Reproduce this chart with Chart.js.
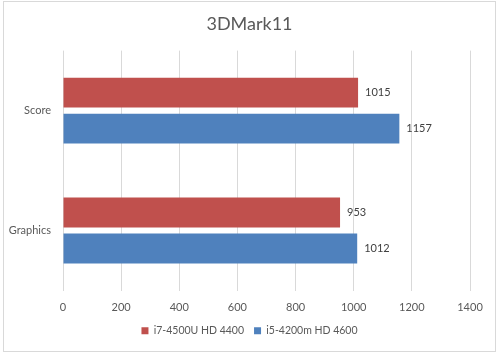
<!DOCTYPE html>
<html><head><meta charset="utf-8">
<script src="https://cdn.jsdelivr.net/npm/chart.js@4/dist/chart.umd.min.js"></script>
<style>html,body{margin:0;padding:0;background:#fff;}#wrap{width:499px;height:354px;position:relative;}</style>
</head><body><div id="wrap"><canvas id="c" width="499" height="354"></canvas></div>
<script>
const categories = ["Score", "Graphics"];
const seriesNames = ["i7-4500U HD 4400", "i5-4200m HD 4600"];
const i7Values = [1015, 953];
const i5Values = [1157, 1012];
const xTicks = [0, 200, 400, 600, 800, 1000, 1200, 1400];
const FONT = "Lato, 'Open Sans', sans-serif";

const frame = {
  id: 'frame',
  beforeDraw(chart) {
    const ctx = chart.ctx;
    ctx.save();
    ctx.fillStyle = '#fff';
    ctx.fillRect(0, 0, chart.width, chart.height);
    ctx.strokeStyle = '#d9d9d9';
    ctx.lineWidth = 1;
    ctx.strokeRect(3.5, 1.5, 492, 350);
    ctx.restore();
  }
};
const valueLabels = {
  id: 'valueLabels',
  afterDatasetsDraw(chart) {
    const ctx = chart.ctx;
    ctx.save();
    ctx.font = "11px " + FONT;
    ctx.fillStyle = '#404040';
    ctx.textBaseline = 'middle';
    ctx.textAlign = 'left';
    chart.data.datasets.forEach((ds, i) => {
      chart.getDatasetMeta(i).data.forEach((el, j) => {
        ctx.fillText(String(ds.data[j]), el.x + 7, el.y);
      });
    });
    ctx.restore();
  }
};

new Chart(document.getElementById('c'), {
  type: 'bar',
  data: {
    labels: categories,
    datasets: [
      { label: seriesNames[0], data: i7Values, backgroundColor: '#C0504D', categoryPercentage: 0.6, barPercentage: 0.83 },
      { label: seriesNames[1], data: i5Values, backgroundColor: '#4F81BD', categoryPercentage: 0.6, barPercentage: 0.83 }
    ]
  },
  options: {
    indexAxis: 'y',
    responsive: false,
    animation: false,
    devicePixelRatio: 1,
    layout: { padding: { left: 0, right: 0, top: 0, bottom: 8 } },
    plugins: {
      title: { display: true, text: '3DMark11', color: '#595959', font: { family: FONT, size: 18, weight: 'normal' }, padding: { top: 13, bottom: 16 } },
      legend: { position: 'bottom', labels: { color: '#595959', font: { family: FONT, size: 10.5 }, boxWidth: 7, boxHeight: 7, padding: 10 } },
      tooltip: { enabled: false }
    },
    scales: {
      x: {
        min: 0, max: 1400,
        afterBuildTicks(scale) { scale.ticks = xTicks.map(v => ({ value: v })); },
        afterFit(scale) { scale.height = 25; },
        grid: { color: '#d9d9d9', drawTicks: false },
        border: { display: false },
        ticks: { color: '#595959', font: { family: FONT, size: 11 }, padding: 10, callback: (v) => String(v) }
      },
      y: {
        afterFit(scale) { scale.width = 63; },
        grid: { display: false },
        border: { display: false },
        ticks: { color: '#595959', font: { family: FONT, size: 11 }, padding: 4 }
      },
      yRight: {
        type: 'category',
        labels: categories,
        position: 'right',
        afterFit(scale) { scale.width = 29; },
        grid: { display: false },
        border: { display: false },
        ticks: { display: false }
      }
    }
  },
  plugins: [frame, valueLabels]
});
</script></body></html>
